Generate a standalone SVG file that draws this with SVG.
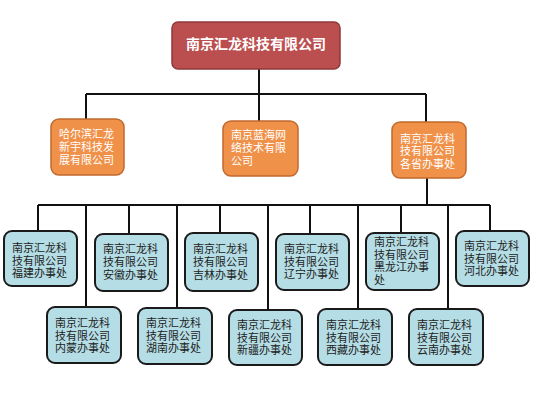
<svg xmlns="http://www.w3.org/2000/svg" width="544" height="411" viewBox="0 0 544 411">
<style>
.ln{stroke:#111;stroke-width:2;fill:none}
.top{fill:#bb4f4f;stroke:#8e3a3a;stroke-width:1.5}
.org{fill:#f0914a;stroke:#c06a2e;stroke-width:1.5}
.blu{fill:#b5dde5;stroke:#1a1a1a;stroke-width:2}
text{font-family:"Liberation Sans","Noto Sans CJK SC",sans-serif}
.tt{fill:#fff;font-size:14px;font-weight:bold}
.ot{fill:#fff;font-size:11px}
.bt{fill:#222;font-size:11px}
</style>
<rect width="544" height="411" fill="#fff"/>
<g id="connectors">
<path class="ln" d="M259 68V94M86 94H426M86 94V119M259 94V121M426 94V122"/>
<path class="ln" d="M427 177V205M38 205H490"/>
<path class="ln" d="M38 205V231M129 205V234M220 205V233M310 205V234M401 205V233M490 205V231"/>
<path class="ln" d="M86 205V307M177 205V308M268 205V310M358 205V309M448 205V309"/>
</g>
<g id="root"><rect class="top" x="172" y="22" width="168" height="47" rx="6"/><text class="tt" x="256" y="49" text-anchor="middle">南京汇龙科技有限公司</text></g>
<g id="harbin"><rect class="org" x="51" y="119" width="73" height="56" rx="8"/><text class="ot"><tspan x="59" y="138">哈尔滨汇龙</tspan><tspan x="59" y="151">新宇科技发</tspan><tspan x="59" y="164">展有限公司</tspan></text></g>
<g id="lanhai"><rect class="org" x="223" y="121" width="75" height="55" rx="8"/><text class="ot"><tspan x="231" y="139">南京蓝海网</tspan><tspan x="231" y="152">络技术有限</tspan><tspan x="231" y="165">公司</tspan></text></g>
<g id="offices"><rect class="org" x="392" y="122" width="74" height="56" rx="8"/><text class="ot"><tspan x="400" y="142.5">南京汇龙科</tspan><tspan x="400" y="155">技有限公司</tspan><tspan x="400" y="167.5">各省办事处</tspan></text></g>
<g id="fujian"><rect class="blu" x="4" y="231" width="73" height="55" rx="8"/><text class="bt"><tspan x="12" y="252">南京汇龙科</tspan><tspan x="12" y="264.5">技有限公司</tspan><tspan x="12" y="277">福建办事处</tspan></text></g>
<g id="anhui"><rect class="blu" x="95" y="234" width="73" height="57" rx="8"/><text class="bt"><tspan x="103" y="253">南京汇龙科</tspan><tspan x="103" y="266">技有限公司</tspan><tspan x="103" y="279">安徽办事处</tspan></text></g>
<g id="jilin"><rect class="blu" x="185" y="233" width="73" height="58" rx="8"/><text class="bt"><tspan x="193" y="253">南京汇龙科</tspan><tspan x="193" y="266">技有限公司</tspan><tspan x="193" y="279">吉林办事处</tspan></text></g>
<g id="liaoning"><rect class="blu" x="276" y="234" width="73" height="56" rx="8"/><text class="bt"><tspan x="284" y="253">南京汇龙科</tspan><tspan x="284" y="265.5">技有限公司</tspan><tspan x="284" y="278">辽宁办事处</tspan></text></g>
<g id="heilongjiang"><rect class="blu" x="366" y="233" width="73" height="57" rx="8"/><text class="bt"><tspan x="374" y="246">南京汇龙科</tspan><tspan x="374" y="258.5">技有限公司</tspan><tspan x="374" y="271">黑龙江办事</tspan><tspan x="374" y="283.5">处</tspan></text></g>
<g id="hebei"><rect class="blu" x="456" y="231" width="73" height="55" rx="8"/><text class="bt"><tspan x="464" y="250">南京汇龙科</tspan><tspan x="464" y="262.5">技有限公司</tspan><tspan x="464" y="275">河北办事处</tspan></text></g>
<g id="neimeng"><rect class="blu" x="47" y="307" width="74" height="56" rx="8"/><text class="bt"><tspan x="55" y="327">南京汇龙科</tspan><tspan x="55" y="339.5">技有限公司</tspan><tspan x="55" y="352">内蒙办事处</tspan></text></g>
<g id="hunan"><rect class="blu" x="138" y="308" width="74" height="56" rx="8"/><text class="bt"><tspan x="146" y="327">南京汇龙科</tspan><tspan x="146" y="339.5">技有限公司</tspan><tspan x="146" y="352">湖南办事处</tspan></text></g>
<g id="xinjiang"><rect class="blu" x="229" y="310" width="73" height="55" rx="8"/><text class="bt"><tspan x="237" y="329">南京汇龙科</tspan><tspan x="237" y="341.5">技有限公司</tspan><tspan x="237" y="354">新疆办事处</tspan></text></g>
<g id="xizang"><rect class="blu" x="318" y="309" width="74" height="56" rx="8"/><text class="bt"><tspan x="326" y="329">南京汇龙科</tspan><tspan x="326" y="341.5">技有限公司</tspan><tspan x="326" y="354">西藏办事处</tspan></text></g>
<g id="yunnan"><rect class="blu" x="409" y="309" width="74" height="56" rx="8"/><text class="bt"><tspan x="417" y="329">南京汇龙科</tspan><tspan x="417" y="341.5">技有限公司</tspan><tspan x="417" y="354">云南办事处</tspan></text></g>
</svg>
